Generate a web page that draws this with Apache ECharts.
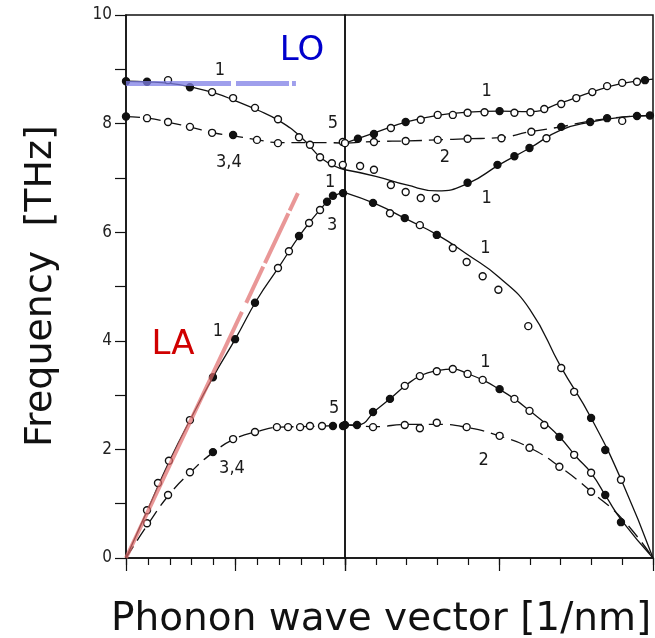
<!DOCTYPE html>
<html>
<head>
<meta charset="utf-8">
<script src="https://cdn.jsdelivr.net/npm/echarts@6/dist/echarts.min.js"></script>
<style>html,body{margin:0;padding:0;background:#fff;}#c{width:655px;height:638px;}</style>
</head>
<body>
<div id="c"></div>
<script>
// ---------- Data (x in tick units of each segment, y in THz) ----------
// Left segment
const loLeft = [[0,8.78],[1,8.77],[2,8.74],[3,8.67],[4,8.57],[5,8.42],[6,8.25],[7,8.05],[8,7.75],[9,7.34],[10,7.15]];
const upper34Left = [[0,8.13],[1,8.10],[2,8.02],[3,7.93],[4,7.83],[5,7.77],[6,7.70],[7,7.65],[8,7.65],[9,7.65],[10,7.64]];
const laLeft = [[0,0],[1,0.9],[2,1.8],[3,2.6],[4,3.35],[5,4.04],[6,4.77],[7,5.37],[8,5.98],[9,6.48],[9.5,6.67],[10,6.73]];
const lower34Left = [[0,0],[1,0.62],[2,1.18],[3,1.6],[4,1.95],[5,2.2],[6,2.33],[7,2.41],[8,2.42],[9,2.43],[10,2.45]];
// Right segment
const upper1Right = [[0,7.64],[1,7.84],[2,8.03],[3,8.15],[4,8.21],[5,8.23],[6,8.22],[7,8.38],[8,8.58],[9,8.74],[10,8.82]];
const lower1Right = [[0,7.15],[1,7.03],[2,6.87],[3,6.76],[4,6.9],[5,7.24],[6,7.55],[7,7.88],[8,8.03],[9,8.12],[10,8.15]];
const dash2Upper = [[0,7.64],[1,7.67],[2,7.68],[3,7.70],[4,7.72],[5,7.74],[6,7.85],[7,7.94],[8,8.05],[9,8.12],[10,8.15]];
const laRight = [[0,6.73],[1,6.52],[2,6.24],[3,5.95],[4,5.58],[5,5.17],[6,4.58],[7,3.53],[8,2.57],[9,1.40],[10,0]];
const taRight = [[0,2.45],[0.4,2.45],[1,2.72],[1.5,2.95],[2,3.19],[2.5,3.37],[3,3.45],[3.5,3.48],[4,3.39],[4.5,3.27],[5,3.11],[5.5,2.93],[6,2.71],[6.5,2.48],[7,2.21],[7.5,1.87],[8,1.56],[8.5,1.11],[9,0.68],[10,0]];
const dash2Lower = [[0,2.45],[1,2.42],[2,2.46],[3,2.46],[4,2.40],[5,2.25],[6,2.03],[7,1.67],[8,1.22],[9,0.72],[10,0]];
// Guide lines
const loGuide = [[0,8.74],[7.76,8.74]];
const laGuide = [[0,0],[7.85,6.72]];
// Measured points: open / filled
const openLeft = [[1.92,8.80],[3.93,8.58],[4.89,8.47],[5.89,8.29],[6.94,8.08],[7.9,7.75],[8.4,7.61],[8.86,7.38],[9.4,7.27],[9.9,7.24],
  [0.96,8.10],[1.92,8.03],[2.92,7.94],[3.93,7.83],[5.98,7.70],[6.94,7.64],[9.9,7.66],
  [0.96,0.88],[1.46,1.38],[1.96,1.79],[2.92,2.54],[6.94,5.34],[7.44,5.65],[8.36,6.17],[8.86,6.41],
  [0.96,0.64],[1.92,1.16],[2.92,1.58],[4.89,2.19],[5.89,2.32],[6.89,2.41],[7.4,2.41],[7.95,2.41],[8.4,2.43],[8.95,2.43]];
const filledLeft = [[0,8.78],[0.96,8.77],[2.92,8.67],[0,8.13],[4.89,7.79],
  [3.97,3.33],[4.98,4.03],[5.89,4.70],[7.90,5.93],[9.18,6.56],[9.45,6.67],[9.91,6.72],
  [3.97,1.95],[9.45,2.43],[9.91,2.43]];
const openRight = [[1.49,7.92],[2.46,8.07],[3.01,8.16],[3.50,8.16],[3.98,8.20],[4.53,8.21],[5.50,8.20],[6.02,8.21],[6.47,8.27],[7.02,8.36],[7.51,8.47],[8.03,8.58],[8.51,8.69],[9.0,8.75],[9.48,8.77],
  [0,7.64],[0.94,7.66],[1.97,7.68],[3.01,7.70],[3.98,7.72],[5.08,7.73],[6.05,7.85],
  [0.49,7.22],[0.94,7.15],[1.49,6.87],[1.97,6.74],[2.46,6.63],[2.95,6.63],[6.54,7.73],[9.0,8.05],
  [1.46,6.35],[2.43,6.13],[3.5,5.71],[3.95,5.45],[4.47,5.19],[4.98,4.94],[5.95,4.27],[7.02,3.50],[7.44,3.06],[8.96,1.44],
  [1.94,3.17],[2.43,3.35],[2.98,3.44],[3.5,3.48],[3.98,3.39],[4.47,3.28],[5.5,2.93],[5.99,2.71],[6.47,2.45],[7.44,1.90],[7.99,1.57],
  [0.91,2.41],[1.94,2.45],[2.43,2.39],[2.98,2.49],[3.95,2.41],[5.02,2.25],[5.99,2.03],[6.96,1.68],[7.99,1.22]];
const filledRight = [[0.42,7.72],[0.94,7.81],[1.97,8.03],[5.02,8.23],[9.74,8.80],
  [3.98,6.91],[4.95,7.24],[5.5,7.40],[5.99,7.55],[7.02,7.94],[7.96,8.03],[8.51,8.10],[9.48,8.14],[9.9,8.15],
  [0.91,6.54],[1.94,6.26],[2.98,5.95],[7.99,2.58],[8.45,1.99],
  [0,2.45],[0.39,2.45],[0.91,2.69],[1.46,2.93],[5.02,3.11],[6.96,2.23],[8.45,1.16],[8.96,0.66]];
// Branch annotations
const notesLeft = [[4.29,8.99,'1'],[4.70,7.29,'3,4'],[9.45,8.01,'5'],[9.32,6.92,'1'],[9.41,6.13,'3'],[4.2,4.18,'1'],[9.5,2.76,'5'],[4.84,1.66,'3,4']];
const notesRight = [[4.6,8.6,'1'],[3.24,7.37,'2'],[4.6,6.63,'1'],[4.56,5.71,'1'],[4.56,3.61,'1'],[4.5,1.80,'2']];
const modeNotes = [[8.04,9.34,'LO','#0000cc'],[2.15,3.92,'LA','#d00000']];
const yTicks = [0,1,2,3,4,5,6,7,8,9,10];

const chart = echarts.init(document.getElementById('c'), null, {renderer:'canvas'});
const ink = '#111';
function curve(data, g, dashed){
  return {type:'line', xAxisIndex:g*2, yAxisIndex:g, data:data, smooth:true, showSymbol:false, symbol:'none',
    lineStyle:{color:ink, width:1.3, type: dashed ? [14,7] : 'solid'}, z:2, silent:true};
}
function marks(data, g, filled){
  return {type:'scatter', xAxisIndex:g*2, yAxisIndex:g, data:data, symbol:'circle', symbolSize:7,
    itemStyle:{color: filled ? ink : '#fff', borderColor:ink, borderWidth:1.4, opacity:1}, z:3, silent:true};
}
function notes(arr, g){
  return {type:'scatter', xAxisIndex:g*2, yAxisIndex:g, symbolSize:1, itemStyle:{color:'transparent', opacity:1},
    data: arr.map(a => ({value:[a[0],a[1]], name:a[2]})),
    label:{show:true, position:'inside', formatter:'{b}', color:'#1a1a1a', textBorderWidth:0, fontSize:18, fontFamily:'DejaVu Sans Condensed, DejaVu Sans, sans-serif'}, z:5, silent:true};
}
const xBase = g => ({gridIndex:g, type:'value', min:0, max:10, interval:1, position:'bottom',
  axisLine:{show:true, lineStyle:{color:ink, width:1.5}}, axisTick:{show:true, length:7, lineStyle:{color:ink, width:1.2}},
  axisLabel:{show:false}, splitLine:{show:false}});
const xMajor = g => ({gridIndex:g, type:'value', min:0, max:10, interval:5, position:'bottom',
  axisLine:{show:false}, axisTick:{show:true, length:13, lineStyle:{color:ink, width:1.2}},
  axisLabel:{show:false}, splitLine:{show:false}});

chart.setOption({
  animation:false,
  backgroundColor:'#fff',
  grid:[
    {left:126, top:15, width:219, height:543, show:true, borderColor:ink, borderWidth:1.5},
    {left:345, top:15, width:308, height:543, show:true, borderColor:ink, borderWidth:1.5}
  ],
  xAxis:[xBase(0), xMajor(0), xBase(1), xMajor(1)],
  yAxis:[
    {gridIndex:0, type:'value', min:0, max:10, interval:1,
      axisLine:{show:true, lineStyle:{color:ink, width:1.5}},
      axisTick:{show:true, length:11, lineStyle:{color:ink, width:1.2}},
      axisLabel:{margin:14, color:'#222', fontSize:17, fontFamily:'DejaVu Sans Condensed, DejaVu Sans, sans-serif',
        formatter: v => (yTicks.indexOf(v) >= 0 && v % 2 === 0) ? String(v) : ''},
      splitLine:{show:false}},
    {gridIndex:1, type:'value', min:0, max:10, show:false}
  ],
  graphic:[
    {type:'text', top:600, left:111, style:{text:'Phonon wave vector [1/nm]', fill:'#111', font:'39px "DejaVu Sans"'}},
    {type:'text', rotation:Math.PI/2, x:22, y:447, style:{text:'Frequency  [THz]', fill:'#111', font:'38px "DejaVu Sans"', textAlign:'left', textVerticalAlign:'top'}}
  ],
  series:[
    curve(loLeft,0,false), curve(upper34Left,0,true), curve(laLeft,0,false), curve(lower34Left,0,true),
    curve(upper1Right,1,false), curve(lower1Right,1,false), curve(dash2Upper,1,true),
    curve(laRight,1,false), curve(taRight,1,false), curve(dash2Lower,1,true),
    marks(openLeft,0,false), marks(filledLeft,0,true), marks(openRight,1,false), marks(filledRight,1,true),
    {type:'line', xAxisIndex:0, yAxisIndex:0, data:loGuide, showSymbol:false, symbol:'none',
      lineStyle:{color:'#7f7fe6', opacity:0.75, width:5, type:[105,5,53,3,9,100]}, z:4, silent:true},
    {type:'line', xAxisIndex:0, yAxisIndex:0, data:laGuide, showSymbol:false, symbol:'none',
      lineStyle:{color:'#e06b6b', opacity:0.7, width:4, type:[272,10,40,4,55,3,20,60]}, z:4, silent:true},
    notes(notesLeft,0), notes(notesRight,1),
    {type:'scatter', xAxisIndex:0, yAxisIndex:0, symbolSize:1, itemStyle:{color:'transparent', opacity:1},
      data: modeNotes.map(a => ({value:[a[0],a[1]], name:a[2], label:{color:a[3]}})),
      label:{show:true, position:'inside', formatter:'{b}', textBorderWidth:0, fontSize:34, fontFamily:'DejaVu Sans, sans-serif'}, z:6, silent:true}
  ]
});
</script>
</body>
</html>
